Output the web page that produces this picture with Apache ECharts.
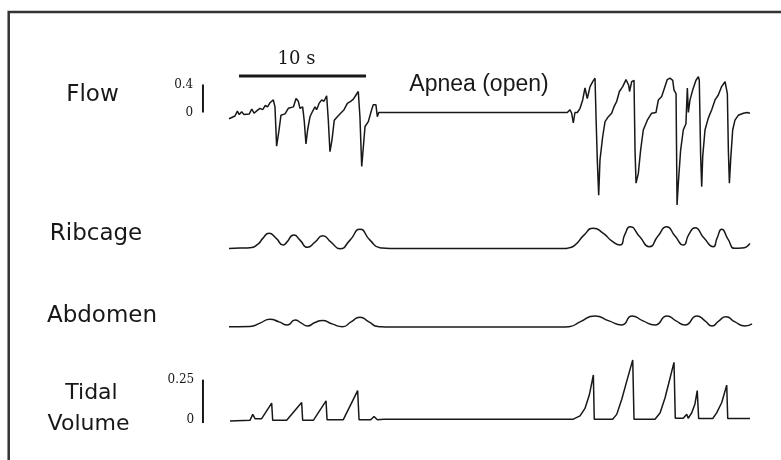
<!DOCTYPE html>
<html>
<head>
<meta charset="utf-8">
<script src="https://cdn.jsdelivr.net/npm/echarts@6/dist/echarts.min.js"></script>
<style>html,body{margin:0;padding:0;background:#fff}#c{width:781px;height:460px}</style>
</head>
<body>
<div id="c"></div>
<script>
// ---- data (time in seconds, values in trace units) ----
var flowTime = [0.0,0.47,0.66,0.81,1.0,1.18,1.6,1.79,1.97,2.23,2.44,2.65,2.86,3.04,3.23,3.36,3.49,3.62,3.75,3.94,4.09,4.41,4.67,4.8,5.07,5.28,5.46,5.59,5.8,5.93,6.06,6.19,6.38,6.56,6.77,6.9,7.09,7.3,7.48,7.69,7.82,7.95,8.11,8.29,8.53,8.79,9.06,9.32,9.58,9.79,10.0,10.18,10.31,10.45,10.58,10.71,10.97,11.23,11.36,11.57,11.68,11.79,
  26.64,26.85,26.98,27.11,27.24,27.43,27.64,27.85,28.03,28.21,28.43,28.64,28.82,28.9,29.0,29.11,29.21,29.42,29.61,29.87,30.13,30.31,30.53,30.74,31.0,31.26,31.47,31.54,31.71,31.89,31.97,32.05,32.23,32.41,32.62,32.94,33.28,33.62,33.81,34.07,34.33,34.51,34.72,34.94,35.04,35.2,35.28,35.38,35.56,35.77,35.98,36.09,36.17,36.3,36.51,36.77,36.96,37.03,37.14,37.22,37.3,37.48,37.74,38.01,38.27,38.53,38.79,39.06,39.24,39.32,39.4,39.5,39.66,39.84,40.1,40.5,40.81,41.02];
var flowValue = [-0.09,-0.05,0.02,-0.03,0.01,-0.03,-0.02,0.05,-0.01,0.03,0.06,0.04,0.10,0.08,0.14,0.12,0.18,0.08,-0.48,-0.25,-0.04,-0.02,0.06,0.04,0.08,0.20,0.16,0.06,0.08,-0.13,-0.45,-0.25,-0.06,0.01,0.08,0.04,0.13,0.18,0.16,0.24,-0.11,-0.56,-0.39,-0.11,-0.06,-0.01,0.04,0.13,0.16,0.19,0.25,0.30,-0.06,-0.77,-0.49,-0.20,-0.13,0.04,0.11,0.11,-0.06,0.0,
  0.0,0.04,-0.01,-0.15,0.0,0.0,0.06,0.18,0.35,0.2,0.37,0.44,0.49,-0.06,-0.68,-1.18,-0.68,-0.35,-0.13,-0.06,-0.01,0.08,0.16,0.3,0.37,0.47,0.39,0.3,0.44,0.46,-0.54,-1.01,-0.87,-0.54,-0.25,-0.11,-0.01,0.0,0.18,0.23,0.37,0.47,0.49,0.46,0.32,0.27,-1.32,-1.01,-0.54,-0.25,-0.16,0.35,0.0,0.18,0.32,0.46,0.51,0.46,-0.63,-1.06,-0.63,-0.25,-0.08,0.04,0.18,0.25,0.37,0.44,0.27,-0.54,-1.01,-0.68,-0.25,-0.11,-0.04,-0.01,0.0,-0.01];

var ribTime = [0,0.87,1.65,2.28,2.68,3.15,3.7,4.28,4.49,5.12,5.59,6.17,6.77,7.38,8.03,8.74,9.53,10.31,11.1,11.89,12.68,26.5,
  26.69,27.24,27.95,28.69,29.45,30.16,30.79,31.18,31.57,32.36,33.09,33.78,34.46,35.12,35.77,36.22,36.69,37.4,38.13,38.43,38.8,39.29,39.84,40.39,41.02];
var ribValue = [0,0.02,0.04,0.22,0.52,0.76,0.52,0.17,0.27,0.67,0.42,0.06,0.32,0.64,0.32,-0.01,0.42,0.96,0.42,0.04,0,0,
  0.02,0.17,0.67,1.01,0.77,0.37,0.17,0.72,1.09,0.57,0.09,0.62,1.09,0.62,0.17,0.72,1.04,0.52,0.09,0.52,0.96,0.47,0.01,0.02,0.26];

var abdTime = [0,1.65,2.44,3.23,3.94,4.61,5.2,5.67,6.18,6.77,7.36,8.11,8.94,9.61,10.31,11.02,11.73,12.68,26.3,
  26.85,27.64,28.82,29.92,30.94,31.73,32.6,33.54,34.49,35.2,35.91,36.85,37.48,38.03,38.58,39.13,39.84,40.63,41.18];
var abdValue = [0,0.01,0.18,0.37,0.24,0.09,0.34,0.19,0.04,0.21,0.31,0.14,0,0.24,0.47,0.24,0.01,-0.02,-0.02,
  0.01,0.24,0.54,0.29,0.09,0.54,0.29,0.09,0.54,0.29,0.09,0.54,0.29,0.04,0.29,0.5,0.24,0.04,0.14];

var tidTime = [0.08,1.65,1.87,2.05,2.57,3.36,3.44,4.54,5.72,5.8,6.64,7.64,7.72,9.0,10.13,10.24,11.16,11.42,11.68,12.2,
  27.11,27.64,28.03,28.37,28.69,28.76,30.21,30.53,30.92,31.31,31.79,31.89,33.54,33.94,34.33,34.72,35.04,35.14,35.77,36.04,36.16,36.43,36.69,36.87,36.98,38.09,38.4,38.8,39.19,39.27,41.02];
var tidValue = [-0.007,-0.003,0.034,0.007,0.007,0.104,-0.003,-0.003,0.108,-0.003,-0.003,0.118,0.001,0.001,0.182,0.001,0.001,0.021,0.001,0.004,
  0.004,0.025,0.071,0.154,0.279,0.004,0.004,0.034,0.127,0.238,0.373,0.004,0.004,0.043,0.136,0.257,0.358,0.01,0.01,0.034,0.01,0.043,0.099,0.182,0.008,0.008,0.043,0.108,0.216,0.008,0.008];

// scale bars
var timeBarStart = 0.79, timeBarEnd = 10.79, timeBarLevel = 0.52;   // 10 s bar
var flowBarTime = -2.05, flowBarRange = [0, 0.4];
var tidBarTime = -2.05, tidBarRange = [-0.02, 0.25];

var flowTicks = ['0', '0.4'];
var tidTicks = ['0', '0.25'];

function zip(a, b) { return a.map(function (t, i) { return [t, b[i]]; }); }

var chart = echarts.init(document.getElementById('c'), null, {renderer: 'canvas'});
var ink = '#181818';
var X0 = -2.5, X1 = 41.5;
var gl = 197.25, gw = 558.8;
function xa(i) { return {type: 'value', gridIndex: i, min: X0, max: X1, show: false}; }
function lineS(i, data, smooth, w) {
  return {type: 'line', xAxisIndex: i, yAxisIndex: i, data: data, showSymbol: false, symbol: 'none',
    smooth: smooth, lineStyle: {color: ink, width: w}, animation: false, silent: true, clip: false};
}
var serifLab = {fontFamily: 'DejaVu Serif', fontSize: 12, color: ink};

var option = {
  backgroundColor: '#fff',
  animation: false,
  grid: [
    {left: gl, width: gw, top: 56.5, height: 168},
    {left: gl, width: gw, top: 218.5, height: 40},
    {left: gl, width: gw, top: 296.7, height: 40},
    {left: gl, width: gw, top: 339.5, height: 135}
  ],
  xAxis: [xa(0), xa(1), xa(2), xa(3)],
  yAxis: [
    {type: 'value', gridIndex: 0, min: -1.6, max: 0.8, interval: 0.4,
      axisLine: {show: false}, axisTick: {show: false}, splitLine: {show: false},
      axisLabel: Object.assign({margin: 4, formatter: function (v) {
        if (Math.abs(v) < 1e-9) return flowTicks[0];
        if (Math.abs(v - 0.4) < 1e-9) return flowTicks[1];
        return '';
      }}, serifLab)},
    {type: 'value', gridIndex: 1, min: -0.5, max: 1.5, show: false},
    {type: 'value', gridIndex: 2, min: -0.5, max: 1.5, show: false},
    {type: 'value', gridIndex: 3, min: -0.25, max: 0.5, interval: 0.25,
      axisLine: {show: false}, axisTick: {show: false}, splitLine: {show: false},
      axisLabel: Object.assign({margin: 3, formatter: function (v) {
        if (Math.abs(v) < 1e-9) return tidTicks[0];
        if (Math.abs(v - 0.25) < 1e-9) return tidTicks[1];
        return '';
      }}, serifLab)}
  ],
  series: [
    lineS(0, zip(flowTime, flowValue), false, 1.5),
    lineS(1, zip(ribTime, ribValue), 0.6, 1.5),
    lineS(2, zip(abdTime, abdValue), 0.6, 1.5),
    lineS(3, zip(tidTime, tidValue), false, 1.5),
    lineS(0, [[timeBarStart, timeBarLevel], [timeBarEnd, timeBarLevel]], false, 3),
    lineS(0, [[flowBarTime, flowBarRange[0]], [flowBarTime, flowBarRange[1]]], false, 2),
    lineS(3, [[tidBarTime, tidBarRange[0]], [tidBarTime, tidBarRange[1]]], false, 2)
  ],
  graphic: [
    {type: 'polyline', shape: {points: [[8.7, 462], [8.7, 12], [783, 12]]}, style: {stroke: '#333', lineWidth: 2.5, fill: null}, silent: true},
    {type: 'text', x: 92.5, y: 95, style: {text: 'Flow', font: '23px "DejaVu Sans"', fill: ink, align: 'center', verticalAlign: 'middle'}},
    {type: 'text', x: 96, y: 234.5, style: {text: 'Ribcage', font: '23px "DejaVu Sans"', fill: ink, align: 'center', verticalAlign: 'middle'}},
    {type: 'text', x: 102, y: 316.5, style: {text: 'Abdomen', font: '23px "DejaVu Sans"', fill: ink, align: 'center', verticalAlign: 'middle'}},
    {type: 'text', x: 91.5, y: 393, style: {text: 'Tidal', font: '22px "DejaVu Sans"', fill: ink, align: 'center', verticalAlign: 'middle'}},
    {type: 'text', x: 88.5, y: 424, style: {text: 'Volume', font: '22px "DejaVu Sans"', fill: ink, align: 'center', verticalAlign: 'middle'}},
    {type: 'text', x: 479, y: 85, style: {text: 'Apnea (open)', font: '23px "Liberation Sans"', fill: ink, align: 'center', verticalAlign: 'middle'}},
    {type: 'text', x: 296.5, y: 59, style: {text: '10 s', font: '18px "DejaVu Serif"', fill: ink, align: 'center', verticalAlign: 'middle'}}
  ]
};
chart.setOption(option);
</script>
</body>
</html>
